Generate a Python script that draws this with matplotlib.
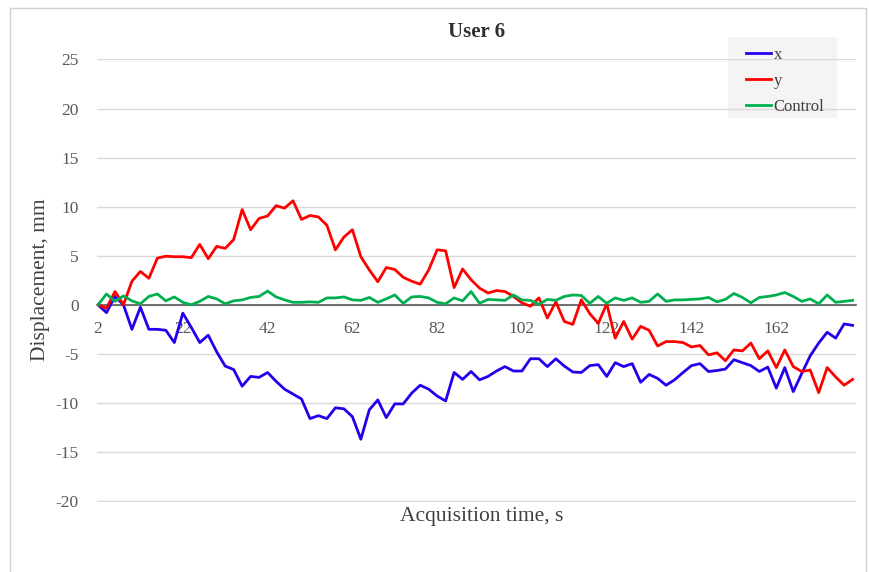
import numpy as np
import matplotlib
matplotlib.use('Agg')
import matplotlib.pyplot as plt
from matplotlib.patches import Rectangle

plt.rcParams['font.family'] = ['Liberation Serif', 'DejaVu Serif']

# acquisition time (s), one sample every 2 s
t = np.arange(2, 181, 2)

x_disp = [0, -0.8, 0.85, 0.0, -2.5, -0.25, -2.5, -2.5, -2.6, -3.85,
          -0.85, -2.3, -3.85, -3.1, -4.8, -6.25, -6.6, -8.3, -7.3, -7.4,
          -6.9, -7.8, -8.6, -9.1, -9.6, -11.6, -11.3, -11.6, -10.5, -10.6,
          -11.4, -13.7, -10.7, -9.7, -11.5, -10.1, -10.1, -9.0, -8.2, -8.6,
          -9.3, -9.8, -6.9, -7.6, -6.8, -7.65, -7.3, -6.75, -6.3, -6.75,
          -6.75, -5.5, -5.5, -6.3, -5.5, -6.25, -6.85, -6.9, -6.2, -6.1,
          -7.3, -5.9, -6.3, -6.0, -7.9, -7.1, -7.5, -8.2, -7.65, -6.9,
          -6.2, -6.0, -6.8, -6.7, -6.55, -5.6, -5.9, -6.2, -6.8, -6.35,
          -8.5, -6.4, -8.85, -7.0, -5.2, -3.9, -2.8, -3.4, -1.95, -2.1]

y_disp = [0, -0.35, 1.35, 0.0, 2.4, 3.4, 2.7, 4.75, 4.95, 4.9,
          4.9, 4.8, 6.15, 4.7, 5.95, 5.75, 6.65, 9.7, 7.65, 8.8,
          9.05, 10.1, 9.85, 10.6, 8.7, 9.1, 8.95, 8.1, 5.6, 6.9,
          7.65, 4.9, 3.55, 2.35, 3.8, 3.6, 2.8, 2.4, 2.1, 3.55,
          5.6, 5.5, 1.75, 3.65, 2.55, 1.7, 1.2, 1.45, 1.35, 0.85,
          0.2, -0.15, 0.7, -1.35, 0.3, -1.7, -2.0, 0.5, -0.9, -1.9,
          0.1, -3.4, -1.7, -3.5, -2.2, -2.6, -4.2, -3.75, -3.75, -3.85,
          -4.3, -4.15, -5.1, -4.9, -5.7, -4.6, -4.7, -3.9, -5.5, -4.7,
          -6.4, -4.6, -6.3, -6.8, -6.65, -8.95, -6.4, -7.35, -8.2, -7.6]

control = [0, 1.1, 0.35, 0.9, 0.4, 0.1, 0.85, 1.1, 0.4, 0.8,
           0.25, 0, 0.35, 0.85, 0.6, 0.1, 0.4, 0.5, 0.75, 0.85,
           1.4, 0.8, 0.5, 0.25, 0.25, 0.3, 0.25, 0.7, 0.7, 0.8,
           0.5, 0.45, 0.75, 0.25, 0.6, 1.0, 0.15, 0.8, 0.85, 0.7,
           0.25, 0.1, 0.7, 0.4, 1.35, 0.15, 0.55, 0.5, 0.45, 1.0,
           0.5, 0.45, 0.05, 0.55, 0.45, 0.85, 1.0, 0.95, 0.15, 0.85,
           0.15, 0.7, 0.45, 0.7, 0.25, 0.35, 1.1, 0.35, 0.5, 0.5,
           0.55, 0.6, 0.75, 0.3, 0.55, 1.15, 0.75, 0.2, 0.75, 0.85,
           1.0, 1.25, 0.85, 0.35, 0.6, 0.1, 1.0, 0.25, 0.35, 0.45]

yticks = [25, 20, 15, 10, 5, 0, -5, -10, -15, -20]

fig = plt.figure(figsize=(8.69, 5.72), dpi=100)
ax = fig.add_axes([97/869, 1-502/572, (856-97)/869, (502-59)/572])

idx = np.arange(len(t))
ax.plot(idx, x_disp, color='#2200ee', lw=2.0, label='x')
ax.plot(idx, y_disp, color='#ff0000', lw=2.0, label='y')
ax.plot(idx, control, color='#00b050', lw=2.0, label='Control')

ax.set_xlim(-0.12, 89.4)
ax.set_ylim(-20.1, 25.05)
ax.set_yticks(yticks)
ax.set_yticklabels([str(v) for v in yticks])
ax.set_xticks(idx[::10])
ax.set_xticklabels([str(v) for v in t[::10]])

ax.grid(axis='y', color='#d9d9d9', lw=1)
ax.set_axisbelow(True)
for s in ['top', 'right', 'left']:
    ax.spines[s].set_visible(False)
ax.spines['bottom'].set_position(('data', 0))
ax.spines['bottom'].set_color('#595959')
ax.spines['bottom'].set_linewidth(1.2)
ax.spines['bottom'].set_zorder(1.5)
ax.tick_params(axis='both', length=0, labelsize=12.5, colors='#595959')
ax.tick_params(axis='y', pad=13)
ax.tick_params(axis='x', pad=12)

ax.set_title('User 6', fontsize=15, fontweight='bold', color='#303030', pad=15.5)
fig.text(41/869, 1-280/572, 'Displacement, mm', rotation=90, fontsize=15.5,
         color='#404040', ha='center', va='center')
fig.text(482/869, 1-517/572, 'Acquisition time, s', fontsize=15.5,
         color='#404040', ha='center', va='center')

# legend background box
ax.add_patch(Rectangle((728/869, 1-118/572), 109/869, 81/572,
                       transform=fig.transFigure, facecolor='#f4f4f4',
                       edgecolor='none', zorder=0.4, clip_on=False))
leg = ax.legend(loc='upper left', bbox_to_anchor=(736/869, 1-37/572),
                bbox_transform=fig.transFigure, fontsize=12, frameon=False,
                handlelength=1.5, handletextpad=0.15,
                labelspacing=0.6, borderpad=0.6, borderaxespad=0)
for txt in leg.get_texts():
    txt.set_color('#404040')

fig.patches.append(Rectangle((10/869, -0.01), 856/869, 1.01 - 8/572,
                             transform=fig.transFigure, fill=False,
                             edgecolor='#d0d0d0', lw=1))

plt.savefig('out.png', dpi=100)
